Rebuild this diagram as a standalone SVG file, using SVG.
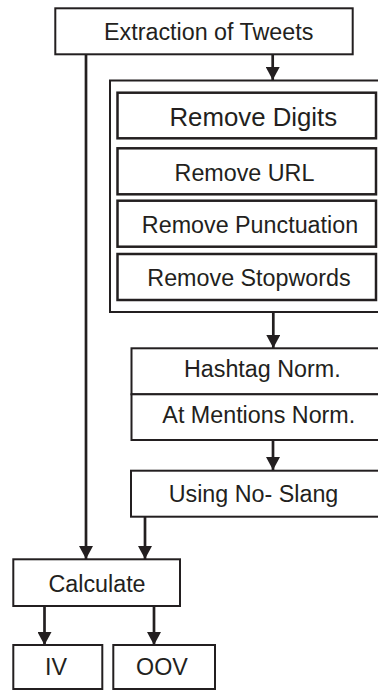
<svg xmlns="http://www.w3.org/2000/svg" width="378" height="691" viewBox="0 0 378 691">
  <defs>
    <style>
      .box { fill: #ffffff; stroke: #231f20; stroke-width: 2; }
      .inner { fill: #ffffff; stroke: #231f20; stroke-width: 2.5; }
      .lbl { font-family: "Liberation Sans", Arial, sans-serif; font-size: 23.3px; fill: #231f20; text-anchor: middle; }
      .edge { fill: none; stroke: #231f20; stroke-width: 2.7; }
    </style>
    <marker id="arrow" markerUnits="userSpaceOnUse" markerWidth="14" markerHeight="14" viewBox="0 0 14 14" refX="13" refY="7" orient="auto">
      <path d="M0,0 L13,7 L0,14 Z" fill="#231f20"/>
    </marker>
  </defs>

  <!-- connectors -->
  <g id="connectors">
    <path class="edge" d="M272.7,54 V80" marker-end="url(#arrow)"/>
    <path class="edge" d="M86,54 V559" marker-end="url(#arrow)"/>
    <path class="edge" d="M273.3,312.5 V348" marker-end="url(#arrow)"/>
    <path class="edge" d="M273,440 V470" marker-end="url(#arrow)"/>
    <path class="edge" d="M145,516.7 V559" marker-end="url(#arrow)"/>
    <path class="edge" d="M44.5,606 V645" marker-end="url(#arrow)"/>
    <path class="edge" d="M154,606 V645" marker-end="url(#arrow)"/>
  </g>

  <g id="extraction">
    <rect class="box" x="55.3" y="8.3" width="297.4" height="46"/>
    <text class="lbl" x="208.7" y="40">Extraction of Tweets</text>
  </g>

  <g id="cleaning">
    <rect class="box" x="110" y="80.5" width="280" height="231.5"/>
    <g id="remove-digits">
      <rect class="inner" x="117.5" y="92.7" width="258.5" height="45.6"/>
      <text class="lbl" x="253.3" y="126" style="font-size:25.8px">Remove Digits</text>
    </g>
    <g id="remove-url">
      <rect class="inner" x="117.5" y="148.3" width="258.5" height="46"/>
      <text class="lbl" x="244.5" y="181">Remove URL</text>
    </g>
    <g id="remove-punctuation">
      <rect class="inner" x="117.5" y="200.7" width="258.5" height="46"/>
      <text class="lbl" x="250" y="232.7">Remove Punctuation</text>
    </g>
    <g id="remove-stopwords">
      <rect class="inner" x="117.5" y="254" width="258.5" height="46"/>
      <text class="lbl" x="249" y="286">Remove Stopwords</text>
    </g>
  </g>

  <g id="hashtag">
    <rect class="box" x="131.5" y="348.3" width="260" height="46"/>
    <text class="lbl" x="262.3" y="377.3">Hashtag Norm.</text>
  </g>
  <g id="mentions">
    <rect class="box" x="131.5" y="394.3" width="260" height="45.7"/>
    <text class="lbl" x="258.8" y="423.3">At Mentions Norm.</text>
  </g>

  <g id="slang">
    <rect class="box" x="131" y="470.7" width="260" height="46"/>
    <text class="lbl" x="253.5" y="502">Using No- Slang</text>
  </g>

  <g id="calculate">
    <rect class="box" x="13.3" y="559.3" width="166.7" height="46.7"/>
    <text class="lbl" x="97" y="591.7">Calculate</text>
  </g>

  <g id="iv">
    <rect class="box" x="13.3" y="645" width="89" height="44"/>
    <text class="lbl" x="56" y="675">IV</text>
  </g>

  <g id="oov">
    <rect class="box" x="113.3" y="645" width="101.7" height="44"/>
    <text class="lbl" x="162" y="675">OOV</text>
  </g>
</svg>
